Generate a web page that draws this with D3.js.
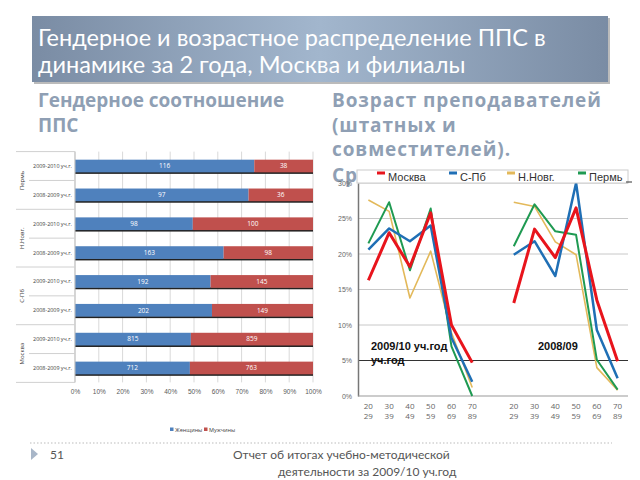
<!DOCTYPE html>
<head>
<meta charset="utf-8">
<style>
  body { margin: 0; padding: 0; background: #fff; }
  svg { display: block; font-family: "Open Sans", sans-serif; }
</style>
<script src="https://cdnjs.cloudflare.com/ajax/libs/d3/7.8.5/d3.min.js"></script>
</head>
<body>
<svg width="640" height="480"></svg>
<script>
// gender chart
const groups = ['Пермь', 'Н.Новг.', 'С-Пб', 'Москва'];
const years = ['2009-2010 уч.г.', '2008-2009 уч.г.'];
const women = [116, 97, 98, 163, 192, 202, 815, 712];
const men = [38, 36, 100, 98, 145, 149, 859, 763];

// age chart (% of staff)
const ageGroups = ['20-29', '30-39', '40-49', '50-59', '60-69', '70-89'];
const cities = ['Москва', 'С-Пб', 'Н.Новг.', 'Пермь'];
const moscow0910 = [16.3, 23.0, 18.2, 25.8, 10.0, 4.7];
const spb0910 = [20.6, 23.6, 21.8, 24.0, 8.2, 2.0];
const nnov0910 = [27.6, 26.0, 13.8, 20.4, 8.9, 1.2];
const perm0910 = [21.5, 27.3, 17.7, 26.4, 7.0, 0.0];
const moscow0809 = [13.1, 23.5, 19.5, 26.5, 13.5, 4.9];
const spb0809 = [19.9, 21.8, 16.9, 30.0, 9.3, 2.5];
const nnov0809 = [27.3, 26.7, 21.7, 19.9, 4.0, 0.8];
const perm0809 = [21.1, 27.0, 23.2, 22.7, 5.1, 0.9];

const svg = d3.select('svg');
const defs = svg.append('defs');

/* title */
const grad = defs.append('linearGradient').attr('id', 'tg');
grad.append('stop').attr('offset', '0%').attr('stop-color', '#7a8ca4');
grad.append('stop').attr('offset', '50%').attr('stop-color', '#a2b6cd');
grad.append('stop').attr('offset', '100%').attr('stop-color', '#7a8ca4');
svg.append('rect').attr('x', 34).attr('y', 18).attr('width', 576).attr('height', 66).attr('fill', '#bbb');
svg.append('rect').attr('x', 32).attr('y', 16).attr('width', 576).attr('height', 66).attr('fill', 'url(#tg)');
const title = svg.append('g').attr('fill', '#fff').style('font-size', '23.5px').style('font-family', 'Lato');
title.append('text').attr('x', 38).attr('y', 46).text('Гендерное и возрастное распределение ППС в');
title.append('text').attr('x', 38).attr('y', 73).text('динамике за 2 года, Москва и филиалы');

const sub = svg.append('g').attr('fill', '#8f9fb4').style('font-size', '19px').style('font-weight', 'bold');
sub.append('text').attr('x', 38).attr('y', 107).text('Гендерное соотношение');
sub.append('text').attr('x', 38).attr('y', 132).text('ППС');
const subR = sub.append('g').style('letter-spacing', '0.9px');
subR.append('text').attr('x', 332).attr('y', 107).text('Возраст преподавателей');
subR.append('text').attr('x', 332).attr('y', 132).text('(штатных и');
subR.append('text').attr('x', 332).attr('y', 156).text('совместителей).');
subR.append('text').attr('x', 332).attr('y', 182).text('Ср');

/* left: stacked 100% bars */
const rows = d3.range(women.length);
const xL = d3.scaleLinear().domain([0, 1]).range([75, 313]);
const yL = d3.scaleBand().domain(rows).range([151.6, 382.4]).paddingInner(0.56).paddingOuter(0.28);
const left = svg.append('g').style('font-size', '6.5px');

left.append('g').selectAll('line').data(d3.range(0, 1.01, 0.1)).join('line')
  .attr('x1', d => xL(d)).attr('x2', d => xL(d))
  .attr('y1', yL.range()[0]).attr('y2', yL.range()[1])
  .attr('stroke', '#d9d9d9');

const xAxisL = left.append('g').attr('transform', `translate(0,${yL.range()[1]})`)
  .call(d3.axisBottom(xL).ticks(10).tickFormat(d3.format('.0%')).tickSize(0).tickPadding(7));
xAxisL.select('.domain').remove();
xAxisL.selectAll('text').attr('fill', '#595959').style('font-size', '6.5px');

const shares = rows.map(i => ({ i, w: women[i] / (women[i] + men[i]) }));
left.append('g').selectAll('rect').data(shares).join('rect')
  .attr('x', xL(0)).attr('y', d => yL(d.i) + yL.bandwidth() - 0.5)
  .attr('width', xL(1) - xL(0)).attr('height', 2).attr('fill', '#222');
left.append('g').selectAll('rect').data(shares).join('rect')
  .attr('x', xL(0)).attr('y', d => yL(d.i))
  .attr('width', d => xL(d.w) - xL(0)).attr('height', yL.bandwidth()).attr('fill', '#4f81bd');
left.append('g').selectAll('rect').data(shares).join('rect')
  .attr('x', d => xL(d.w)).attr('y', d => yL(d.i))
  .attr('width', d => xL(1) - xL(d.w)).attr('height', yL.bandwidth()).attr('fill', '#c0504d');
left.append('g').selectAll('text').data(shares).join('text')
  .attr('x', d => xL(d.w / 2)).attr('y', d => yL(d.i) + yL.bandwidth() / 2 + 2.3)
  .attr('text-anchor', 'middle').attr('fill', '#fff').text(d => women[d.i]);
left.append('g').selectAll('text').data(shares).join('text')
  .attr('x', d => xL((1 + d.w) / 2)).attr('y', d => yL(d.i) + yL.bandwidth() / 2 + 2.3)
  .attr('text-anchor', 'middle').attr('fill', '#fff').text(d => men[d.i]);

// category axis with two levels
const step = yL.step();
const top0 = yL.range()[0];
left.append('line').attr('x1', xL(0)).attr('x2', xL(0)).attr('y1', top0).attr('y2', yL.range()[1]).attr('stroke', '#bfbfbf');
left.append('g').selectAll('line').data(d3.range(groups.length + 1)).join('line')
  .attr('x1', 16).attr('x2', xL(0)).attr('y1', d => top0 + d * 2 * step).attr('y2', d => top0 + d * 2 * step)
  .attr('stroke', '#d0d0d0');
left.append('g').selectAll('line').data(groups).join('line')
  .attr('x1', 29).attr('x2', xL(0)).attr('y1', (d, g) => top0 + (2 * g + 1) * step).attr('y2', (d, g) => top0 + (2 * g + 1) * step)
  .attr('stroke', '#d0d0d0');
left.append('g').selectAll('text').data(rows).join('text')
  .attr('x', 72).attr('y', i => yL(i) + yL.bandwidth() / 2 + 2)
  .attr('text-anchor', 'end').attr('fill', '#404040').style('font-size', '5.4px').text(i => years[i % 2]);
left.append('g').selectAll('text').data(groups).join('text')
  .attr('transform', (d, g) => `translate(24,${top0 + (2 * g + 1) * step}) rotate(-90)`)
  .attr('text-anchor', 'middle').attr('fill', '#404040').style('font-size', '6px').text(d => d);

// legend
const legL = left.append('g').style('font-size', '5.5px').attr('fill', '#404040');
[['Женщины', '#4f81bd', 170], ['Мужчины', '#c0504d', 204]].forEach(([t, c, x]) => {
  legL.append('rect').attr('x', x).attr('y', 427.5).attr('width', 3.5).attr('height', 3.5).attr('fill', c);
  legL.append('text').attr('x', x + 5).attr('y', 431.5).text(t);
});

/* right: age lines */
const slots = d3.range(13);
const xR = d3.scaleBand().domain(slots).range([358, 628]);
const yR = d3.scaleLinear().domain([0, 30]).range([396, 183]);
const right = svg.append('g');

right.append('g').selectAll('line').data(d3.range(5, 31, 5)).join('line')
  .attr('x1', 358).attr('x2', 628).attr('y1', d => yR(d)).attr('y2', d => yR(d))
  .attr('stroke', d => d === 5 ? '#333' : '#c8c8c8');
const yAxisR = right.append('g').attr('transform', 'translate(358,0)')
  .call(d3.axisLeft(yR).tickValues(d3.range(0, 31, 5)).tickFormat(d => d + '%').tickSize(0).tickPadding(6));
yAxisR.select('.domain').attr('stroke', '#777').attr('stroke-width', 1.5);
yAxisR.selectAll('text').attr('fill', '#666').style('font-size', '7px');
right.append('line').attr('x1', 358).attr('x2', 628).attr('y1', yR(0)).attr('y2', yR(0)).attr('stroke', '#999');

const xLabels = ageGroups.concat([''], ageGroups);
const xl = right.append('g').attr('fill', '#666').style('font-size', '8px').attr('text-anchor', 'middle');
xl.selectAll('text.a').data(slots.filter(s => s !== 6)).join('text')
  .attr('x', s => xR(s) + xR.bandwidth() / 2).attr('y', 409).text(s => xLabels[s].split('-')[0]);
xl.selectAll('text.b').data(slots.filter(s => s !== 6)).join('text')
  .attr('x', s => xR(s) + xR.bandwidth() / 2).attr('y', 419).text(s => xLabels[s].split('-')[1]);

const series = [
  { name: cities[0], color: '#e8141c', w: 3, a: moscow0910, b: moscow0809 },
  { name: cities[1], color: '#1f6fb5', w: 2.5, a: spb0910, b: spb0809 },
  { name: cities[2], color: '#e3b95a', w: 1.6, a: nnov0910, b: nnov0809 },
  { name: cities[3], color: '#1f9a52', w: 2, a: perm0910, b: perm0809 }
];
const line = d3.line().x(d => xR(d[0]) + xR.bandwidth() / 2).y(d => yR(d[1]));
const order = [2, 3, 1, 0];
order.forEach(k => {
  const s = series[k];
  right.append('path').attr('d', line(s.a.map((v, i) => [i, v])))
    .attr('fill', 'none').attr('stroke', s.color).attr('stroke-width', s.w).attr('stroke-linejoin', 'round');
  right.append('path').attr('d', line(s.b.map((v, i) => [i + 7, v])))
    .attr('fill', 'none').attr('stroke', s.color).attr('stroke-width', s.w).attr('stroke-linejoin', 'round');
});

const notes = right.append('g').style('font-family', 'Liberation Sans').style('font-weight', 'bold').style('font-size', '11px').attr('fill', '#111');
notes.append('text').attr('x', 371).attr('y', 350).text('2009/10 уч.год');
notes.append('text').attr('x', 371).attr('y', 364).text('уч.год');
notes.append('text').attr('x', 538).attr('y', 350).text('2008/09');

// legend box over the subtitle
const legR = right.append('g').style('font-family', 'Liberation Sans').style('font-size', '11px').attr('fill', '#333');
legR.append('rect').attr('x', 357).attr('y', 170).attr('width', 271).attr('height', 13).attr('fill', '#fff').attr('stroke', '#ccc');
const legX = [377, 449, 507, 578];
series.forEach((s, k) => {
  legR.append('rect').attr('x', legX[k]).attr('y', 171.5).attr('width', 8).attr('height', 3).attr('fill', s.color);
  legR.append('text').attr('x', legX[k] + 11).attr('y', 181).text(s.name);
});
legR.append('line').attr('x1', 626).attr('x2', 632).attr('y1', 182).attr('y2', 182).attr('stroke', '#333');

/* footer */
svg.append('line').attr('x1', 30).attr('x2', 612).attr('y1', 443).attr('y2', 443)
  .attr('stroke', '#bbb').attr('stroke-dasharray', '1.5,2');
svg.append('path').attr('d', 'M31,448 L38,454 L31,460 Z').attr('fill', '#a8b6c8');
const foot = svg.append('g').attr('fill', '#555').style('font-size', '12px').style('font-family', 'Lato');
foot.append('text').attr('x', 50).attr('y', 459).text('51');
foot.append('text').attr('x', 233).attr('y', 459).text('Отчет об итогах учебно-методической');
foot.append('text').attr('x', 278).attr('y', 476).text('деятельности за 2009/10 уч.год');
</script>
</body>
